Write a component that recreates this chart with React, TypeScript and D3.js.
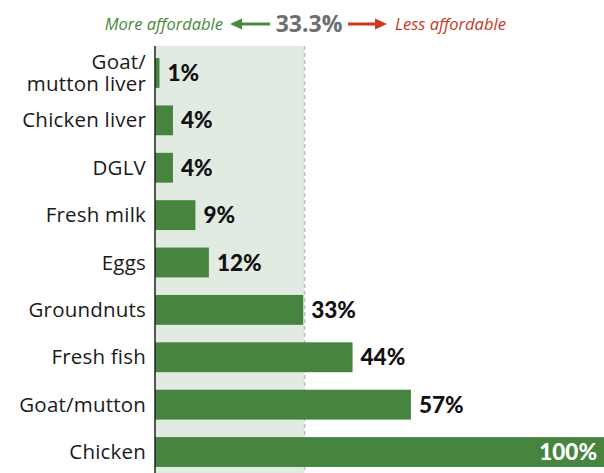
import * as d3 from "d3";
import React from "react";

// share of daily wage (%) needed for the food item
const categories = [
  "Goat/mutton liver",
  "Chicken liver",
  "DGLV",
  "Fresh milk",
  "Eggs",
  "Groundnuts",
  "Fresh fish",
  "Goat/mutton",
  "Chicken",
];
const values = [1, 4, 4, 9, 12, 33, 44, 57, 100];
const valueLabels = ["1%", "4%", "4%", "9%", "12%", "33%", "44%", "57%", "100%"];
const labelLines = [
  ["Goat/", "mutton liver"],
  ["Chicken liver"],
  ["DGLV"],
  ["Fresh milk"],
  ["Eggs"],
  ["Groundnuts"],
  ["Fresh fish"],
  ["Goat/mutton"],
  ["Chicken"],
];
const threshold = 33.3;

const width = 604;
const height = 473;

const GREEN = "#47843f";
const SHADE = "#e1ebe2";
const RED = "#c9381f";
const GREY = "#6d6e71";

export default function App() {
  const x = d3.scaleLinear().domain([0, 100]).range([155, 604]);
  const y = d3
    .scaleBand<string>()
    .domain(categories)
    .range([40.5, 484.5])
    .paddingInner(0.37)
    .paddingOuter(0.37);

  const bh = y.bandwidth();
  const tx = x(threshold);

  return (
    <div style={{ position: "absolute", left: 0, top: 0 }}>
      <svg width={width} height={height} style={{ display: "block" }}>
        {/* affordable zone */}
        <rect x={x(0)} y={46} width={tx - x(0)} height={height - 46} fill={SHADE} />
        <line
          x1={tx}
          x2={tx}
          y1={46}
          y2={height}
          stroke="#bdbdbd"
          strokeWidth={1.5}
          strokeDasharray="4,3"
        />

        {/* header */}
        <g fontFamily="'Open Sans', sans-serif">
          <text x={223} y={30} textAnchor="end" fill="#4a8a3c" fontStyle="italic" fontSize={16.5}>
            More affordable
          </text>
          <line x1={240} x2={270} y1={24} y2={24} stroke="#4a8a3c" strokeWidth={3} />
          <path d="M230,24 L242,18.5 L242,29.5 Z" fill="#4a8a3c" />
          <text x={309} y={31.5} textAnchor="middle" fill={GREY} fontWeight={700} fontSize={23}>
            33.3%
          </text>
          <line x1={348} x2={377} y1={24} y2={24} stroke={RED} strokeWidth={3} />
          <path d="M387,24 L375,18.5 L375,29.5 Z" fill={RED} />
          <text x={395} y={30} fill={RED} fontStyle="italic" fontSize={16.5}>
            Less affordable
          </text>
        </g>

        {/* bars */}
        {categories.map((c, i) => (
          <rect
            key={c}
            x={x(0)}
            y={y(c)}
            width={x(values[i]) - x(0)}
            height={bh}
            fill={GREEN}
          />
        ))}

        {/* axis line */}
        <line x1={x(0)} x2={x(0)} y1={46} y2={height} stroke="#222" strokeWidth={1.5} />

        {/* category labels */}
        {categories.map((c, i) => {
          const lines = labelLines[i];
          const cy = (y(c) as number) + bh / 2;
          const lh = 22;
          return (
            <text
              key={c}
              x={146}
              textAnchor="end"
              fontFamily="'Open Sans', sans-serif"
              fontSize={20.5}
              fill="#1a1a1a"
              letterSpacing={0.2}
            >
              {lines.map((l, j) => (
                <tspan key={j} x={146} y={cy + 7 + (j - (lines.length - 1) / 2) * lh}>
                  {l}
                </tspan>
              ))}
            </text>
          );
        })}

        {/* value labels */}
        {categories.map((c, i) => {
          const inside = values[i] >= 90;
          return (
            <text
              key={c}
              x={inside ? x(values[i]) - 7 : x(values[i]) + 8}
              y={(y(c) as number) + bh / 2 + 8}
              textAnchor={inside ? "end" : "start"}
              fontFamily="Lato, sans-serif"
              fontWeight={900}
              fontSize={22.5}
              fill={inside ? "#fff" : "#111"}
            >
              {valueLabels[i]}
            </text>
          );
        })}
      </svg>
    </div>
  );
}
